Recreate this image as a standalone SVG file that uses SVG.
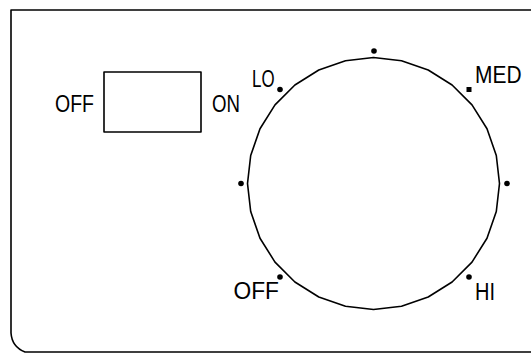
<svg xmlns="http://www.w3.org/2000/svg" width="531" height="354" viewBox="0 0 531 354">
<style>
.ln{fill:none;stroke:#000;stroke-width:1.6;stroke-linejoin:round}
.dot{fill:#000}
.t{font-family:"Liberation Sans",Arial,sans-serif;font-size:23.5px;fill:#000}
</style>
<rect width="531" height="354" fill="#fff"/>
<g id="frame">
<path class="ln" d="M531,10 H11 V333 Q12,347 25,352 H531"/>
</g>
<g id="switch">
<rect class="ln" x="104" y="72" width="97" height="60"/>
<text class="t" x="55" y="112" textLength="39" lengthAdjust="spacingAndGlyphs">OFF</text>
<text class="t" x="212" y="112" textLength="28" lengthAdjust="spacingAndGlyphs">ON</text>
</g>
<g id="dial">
<polygon class="ln" points="373.5,57.5 401.5,60.7 428.2,70 452.1,85 472,104.9 487,128.8 496.3,155.5 499.5,183.5 496.3,211.5 487,238.2 472,262.1 452.1,282 428.2,297 401.5,306.3 373.5,309.5 345.5,306.3 318.8,297 294.9,282 275,262.1 260,238.2 250.7,211.5 247.5,183.5 250.7,155.5 260,128.8 275,104.9 294.9,85 318.8,70 345.5,60.7"/>
</g>
<g id="marks">
<circle class="dot" cx="374" cy="51" r="2.8"/>
<circle class="dot" cx="280" cy="89.5" r="2.8"/>
<rect class="dot" x="466.5" y="87" width="5" height="5"/>
<circle class="dot" cx="241" cy="183.5" r="2.8"/>
<circle class="dot" cx="507" cy="183.5" r="2.8"/>
<circle class="dot" cx="280" cy="277" r="2.8"/>
<circle class="dot" cx="469" cy="277" r="2.8"/>
</g>
<g id="labels">
<text class="t" x="252" y="86.5" textLength="22.5" lengthAdjust="spacingAndGlyphs">LO</text>
<text class="t" x="475" y="83.3" textLength="46.5" lengthAdjust="spacingAndGlyphs">MED</text>
<text class="t" x="233.5" y="298.5" textLength="45.5" lengthAdjust="spacingAndGlyphs">OFF</text>
<text class="t" x="475" y="300" textLength="20" lengthAdjust="spacingAndGlyphs">HI</text>
</g>
</svg>
